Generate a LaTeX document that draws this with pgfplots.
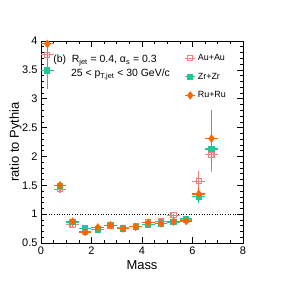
\documentclass[border=0pt]{standalone}
\usepackage{pgfplots}
\pgfplotsset{compat=1.18}
\usepackage{pgfplotstable}
\usepackage{fontspec}
\setmainfont{Liberation Sans}
\definecolor{cau}{RGB}{240,128,128}
\definecolor{czr}{RGB}{30,200,150}
\definecolor{cru}{RGB}{255,102,0}
\pgfplotstableread{
x y ex ey
0.25 3.76 0.25 0.10
0.75 1.43 0.25 0.07
1.25 0.82 0.25 0.04
1.75 0.70 0.25 0.04
2.25 0.74 0.25 0.04
2.75 0.80 0.25 0.03
3.25 0.76 0.25 0.03
3.75 0.79 0.25 0.03
4.25 0.86 0.25 0.03
4.75 0.87 0.25 0.03
5.25 0.98 0.25 0.03
5.75 0.90 0.25 0.04
6.25 1.57 0.25 0.17
6.75 2.03 0.25 0.30
}\au
\pgfplotstableread{
x y ex ey
0.25 3.49 0.25 0.33
0.75 1.49 0.25 0.05
1.25 0.86 0.25 0.04
1.75 0.75 0.25 0.04
2.25 0.73 0.25 0.04
2.75 0.81 0.25 0.03
3.25 0.75 0.25 0.03
3.75 0.78 0.25 0.03
4.25 0.82 0.25 0.03
4.75 0.84 0.25 0.03
5.25 0.86 0.25 0.03
5.75 0.92 0.25 0.04
6.25 1.30 0.25 0.10
6.75 2.13 0.25 0.30
}\zr
\pgfplotstableread{
x y ex ey
0.25 3.95 0.25 0.45
0.75 1.50 0.25 0.05
1.25 0.87 0.25 0.04
1.75 0.69 0.25 0.04
2.25 0.77 0.25 0.04
2.75 0.81 0.25 0.03
3.25 0.75 0.25 0.03
3.75 0.78 0.25 0.03
4.25 0.85 0.25 0.03
4.75 0.84 0.25 0.03
5.25 0.87 0.25 0.03
5.75 0.88 0.25 0.05
6.25 1.35 0.25 0.10
6.75 2.31 0.25 0.50
}\ru
\begin{document}
\begin{tikzpicture}
\useasboundingbox (-41bp,-41bp) rectangle (243bp,243bp);
\begin{axis}[
  at={(0,0)}, anchor=south west,
  scale only axis, width=202bp, height=202bp,
  xmin=0, xmax=8, ymin=0.5, ymax=4,
  xtick={0,2,4,6,8}, ytick={0.5,1,1.5,2,2.5,3,3.5,4},
  minor xtick={0.5,1,...,7.5},
  minor ytick={0.6,0.7,...,3.95},
  tick align=inside, xtick pos=both, ytick pos=both,
  major tick length=6bp, minor tick length=3bp,
  tick style={black, line width=0.6pt},
  axis line style={line width=0.8pt},
  /pgf/number format/assume math mode=true,
  ticklabel style={font=\fontsize{11}{13}\selectfont},
  xlabel={Mass}, ylabel={ratio to Pythia},
  label style={font=\fontsize{13}{15}\selectfont},
  xlabel style={at={(axis description cs:0.5,0)}, anchor=north, yshift=-14bp},
  ylabel style={at={(axis description cs:0,0.5)}, anchor=south, yshift=16bp},
  clip=true,
  legend cell align=left,
  legend style={draw=none, fill=none, at={(axis description cs:0.71,0.945)}, anchor=north west,
    font=\fontsize{9}{11}\selectfont, row sep=7bp, inner sep=0pt},
  legend image code/.code={
    \draw[#1,mark=none,line width=1.2pt] (0bp,0bp) -- (10bp,0bp);
    \draw[#1] plot coordinates {(5bp,0bp)};
  },
]
\addplot[black, dotted, line width=0.6pt, forget plot] coordinates {(0,1) (8,1)};
% vertical error bars
\addplot[draw=cau, line width=1.2pt, forget plot, quiver={u=0, v=2*\thisrow{ey}}]
  table[x=x, y expr=\thisrow{y}-\thisrow{ey}] {\au};
\addplot[draw=czr, line width=1.2pt, forget plot, quiver={u=0, v=2*\thisrow{ey}}]
  table[x=x, y expr=\thisrow{y}-\thisrow{ey}] {\zr};
\addplot[draw=cru, line width=1.2pt, forget plot, quiver={u=0, v=2*\thisrow{ey}}]
  table[x=x, y expr=\thisrow{y}-\thisrow{ey}] {\ru};
% points with horizontal bars
\addplot[cau, only marks, mark=square, mark size=2.6bp, line width=1.1pt,
  error bars/.cd, x dir=both, x explicit, error mark=none,
  error bar style={cau, line width=1.2pt}]
  table[x=x, y=y, x error=ex] {\au};
\addlegendentry{Au+Au}
\addplot[czr, only marks, mark=square*, mark size=2.6bp, line width=1.1pt,
  error bars/.cd, x dir=both, x explicit, error mark=none,
  error bar style={czr, line width=1.2pt}]
  table[x=x, y=y, x error=ex] {\zr};
\addlegendentry{Zr+Zr}
\addplot[cru, only marks, mark=diamond*, mark size=3.4bp, line width=1.1pt,
  error bars/.cd, x dir=both, x explicit, error mark=none,
  error bar style={cru, line width=1.2pt}]
  table[x=x, y=y, x error=ex] {\ru};
\addlegendentry{Ru+Ru}
\node[anchor=west, font=\fontsize{10.5}{13}\selectfont, inner sep=0pt] at (axis description cs:0.06,0.905)
  {(b)\ \ R\textsubscript{jet} = 0.4, α\textsubscript{s} = 0.3};
\node[anchor=west, font=\fontsize{10.5}{13}\selectfont, inner sep=0pt] at (axis description cs:0.148,0.835)
  {25 < p\textsubscript{T,jet} < 30 GeV/c};
\end{axis}
\end{tikzpicture}
\end{document}
